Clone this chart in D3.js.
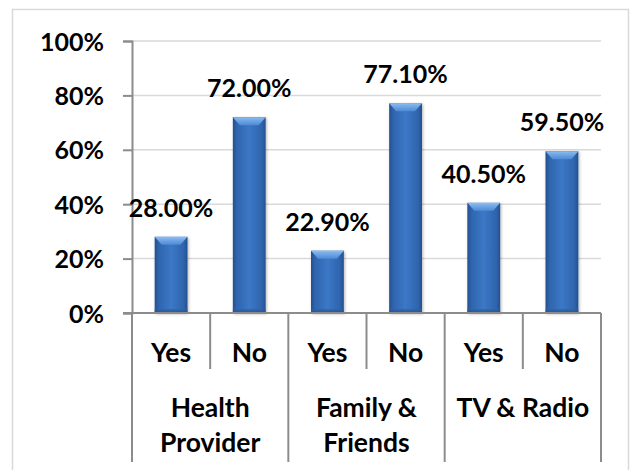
<!DOCTYPE html>
<html>
<head>
<meta charset="utf-8">
<script src="https://cdn.jsdelivr.net/npm/d3@7"></script>
<style>
  html, body { margin: 0; padding: 0; background: #fff; }
  svg { display: block; }
  text { font-family: Lato, "Open Sans", sans-serif; font-weight: 700; fill: #000; }
</style>
</head>
<body>
<svg id="chart" width="633" height="470"></svg>
<script>
// Sources of information, split by response
const groups = ["Health Provider", "Family & Friends", "TV & Radio"];
const groupLines = [["Health", "Provider"], ["Family &", "Friends"], ["TV & Radio"]];
const responses = ["Yes", "No"];
const values = [28.0, 72.0, 22.9, 77.1, 40.5, 59.5];
const yTicks = [0, 20, 40, 60, 80, 100];

const rows = [];
groups.forEach((g, gi) => responses.forEach((r, ri) => {
  rows.push({ group: g, gi, response: r, key: g + "|" + r, value: values[gi * responses.length + ri] });
}));

const svg = d3.select("#chart");
const plot = { left: 132, right: 601, top: 41, bottom: 313 };
const numSize = 25, wordSize = 26.5;

// outer chart frame
svg.append("rect")
  .attr("x", 12.5).attr("y", 9.5)
  .attr("width", 616).attr("height", 480)
  .attr("fill", "#fff").attr("stroke", "#d9d9d9").attr("stroke-width", 1.5);

const x = d3.scaleBand().domain(rows.map(d => d.key)).range([plot.left, plot.right]).paddingInner(0).paddingOuter(0);
const y = d3.scaleLinear().domain([0, 100]).range([plot.bottom, plot.top]);
const barW = x.bandwidth() * 0.42;

const defs = svg.append("defs");
const body = defs.append("linearGradient").attr("id", "barBody").attr("x1", 0).attr("x2", 1).attr("y1", 0).attr("y2", 0);
[[0, "#23508e"], [0.12, "#2f64ad"], [0.5, "#3b78c6"], [0.88, "#2f64ad"], [1, "#23508e"]]
  .forEach(([o, c]) => body.append("stop").attr("offset", o).attr("stop-color", c));
const bevel = defs.append("linearGradient").attr("id", "barTop").attr("x1", 0).attr("x2", 0).attr("y1", 0).attr("y2", 1);
[[0, "#8cbcf0"], [1, "#4d89d6"]].forEach(([o, c]) => bevel.append("stop").attr("offset", o).attr("stop-color", c));
const foot = defs.append("linearGradient").attr("id", "barFoot").attr("x1", 0).attr("x2", 0).attr("y1", 0).attr("y2", 1);
[[0, "#2f64ad"], [1, "#234d86"]].forEach(([o, c]) => foot.append("stop").attr("offset", o).attr("stop-color", c));
const shadow = defs.append("filter").attr("id", "shadow").attr("x", "-40%").attr("y", "-20%").attr("width", "180%").attr("height", "140%");
shadow.append("feDropShadow").attr("dx", 1).attr("dy", 1).attr("stdDeviation", 1.8).attr("flood-color", "#000").attr("flood-opacity", 0.3);

// gridlines
svg.append("g").selectAll("line").data(yTicks.filter(t => t > 0)).join("line")
  .attr("x1", plot.left).attr("x2", plot.right)
  .attr("y1", d => y(d)).attr("y2", d => y(d))
  .attr("stroke", "#d9d9d9").attr("stroke-width", 1.5);

// value axis
const yAxis = svg.append("g").attr("transform", `translate(${plot.left},0)`)
  .call(d3.axisLeft(y).tickValues(yTicks).tickFormat(d => d + "%").tickSize(9).tickPadding(19));
yAxis.select(".domain").attr("stroke", "#8c8c8c").attr("stroke-width", 2);
yAxis.selectAll(".tick line").attr("stroke", "#8c8c8c").attr("stroke-width", 2);
yAxis.selectAll(".tick text").attr("font-size", numSize).attr("font-family", "Lato, sans-serif").attr("font-weight", 700).attr("fill", "#000").attr("dy", "0.36em");

// bars
const bars = svg.append("g").selectAll("g").data(rows).join("g")
  .attr("transform", d => `translate(${x(d.key) + (x.bandwidth() - barW) / 2},0)`);
bars.append("rect")
  .attr("x", 0).attr("y", d => y(d.value))
  .attr("width", barW).attr("height", d => y(0) - y(d.value))
  .attr("fill", "url(#barBody)").attr("filter", "url(#shadow)");
bars.append("rect")
  .attr("x", 0).attr("y", d => y(0) - 4)
  .attr("width", barW).attr("height", 4)
  .attr("fill", "url(#barFoot)").attr("opacity", 0.7);
bars.append("path")
  .attr("d", d => {
    const t = y(d.value), b = 8, s = 7;
    return `M0,${t}L${barW},${t}L${barW - s},${t + b}L${s},${t + b}Z`;
  })
  .attr("fill", "url(#barTop)");

// value labels
svg.append("g").selectAll("text").data(rows).join("text")
  .attr("x", d => x(d.key) + x.bandwidth() / 2)
  .attr("y", d => y(d.value) - 20)
  .attr("text-anchor", "middle").attr("font-size", numSize)
  .text(d => d.value.toFixed(2) + "%");

// category axis: baseline, dividers and labels
const cat = svg.append("g");
const lineColor = "#8c8c8c";
cat.append("line").attr("x1", plot.left - 9).attr("x2", plot.right)
  .attr("y1", y(0)).attr("y2", y(0)).attr("stroke", lineColor).attr("stroke-width", 2);
const groupW = x.bandwidth() * responses.length;
const groupEdges = d3.range(groups.length + 1).map(i => plot.left + i * groupW);
cat.selectAll(".gdiv").data(groupEdges).join("line")
  .attr("x1", d => d).attr("x2", d => d)
  .attr("y1", y(0)).attr("y2", 462)
  .attr("stroke", lineColor).attr("stroke-width", 2);
cat.selectAll(".rdiv").data(rows.filter(d => d.response !== responses[0])).join("line")
  .attr("x1", d => x(d.key)).attr("x2", d => x(d.key))
  .attr("y1", y(0)).attr("y2", 369)
  .attr("stroke", lineColor).attr("stroke-width", 2);
cat.selectAll(".rlab").data(rows).join("text")
  .attr("x", d => x(d.key) + x.bandwidth() / 2)
  .attr("y", 352).attr("dy", "0.36em")
  .attr("text-anchor", "middle").attr("font-size", wordSize)
  .text(d => d.response);
const gl = cat.selectAll(".glab").data(groupLines).join("text")
  .attr("text-anchor", "middle").attr("font-size", wordSize);
gl.selectAll("tspan").data((d, i) => d.map(t => ({ t, i }))).join("tspan")
  .attr("x", d => plot.left + (d.i + 0.5) * groupW)
  .attr("y", (d, j) => 407 + j * 35).attr("dy", "0.36em")
  .text(d => d.t);
</script>
</body>
</html>
